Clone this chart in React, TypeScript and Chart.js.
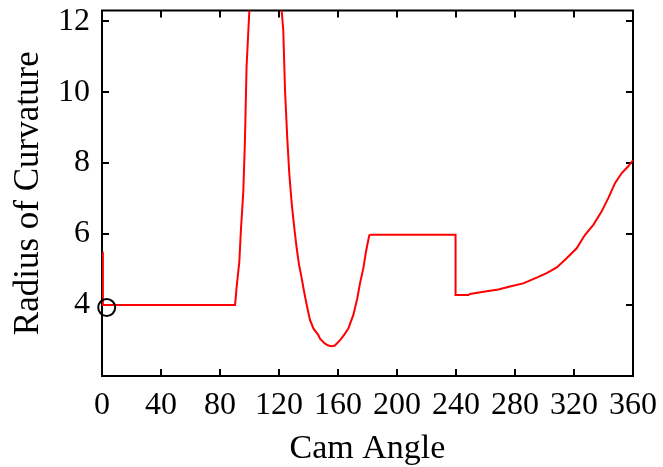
import React, { useEffect, useRef } from "react";
import { Chart, registerables } from "chart.js";

Chart.register(...registerables);

// Cam angle (deg) and radius of curvature
const camAngle: number[] = [
  0.6, 0.6, 2, 30, 60, 90.2, 91.3, 93.1, 94.2, 95.8, 96.9, 98, 99.9, 101, 111,
  121, 121.8, 122.9, 124.1, 125.6, 127, 128.6, 130.4, 132, 133.6, 135.4, 137,
  138.8, 141, 143.3, 146.6, 147.8, 151, 153.4, 155.7, 157.9, 161.4, 164, 167,
  170.4, 173.1, 174.9, 177.2, 179, 179.9, 181.2, 182, 200, 220, 239.7, 239.7,
  248.4, 249.5, 259.7, 268.7, 276.6, 285.6, 294.7, 301.5, 308.3, 315, 321.8,
  327.5, 333.1, 338.8, 343.3, 347.9, 352.4, 356.8, 360,
];
const radius: number[] = [
  5.5, 4.0, 4.0, 4.0, 4.0, 4.0, 4.52, 5.22, 6.13, 7.2, 8.62, 10.7, 12.3, 13.5,
  22, 13.4, 12.3, 11.74, 10.04, 8.7, 7.69, 6.87, 6.16, 5.6, 5.13, 4.75, 4.38,
  4.0, 3.58, 3.34, 3.16, 3.05, 2.92, 2.86, 2.84, 2.86, 3.01, 3.15, 3.34, 3.72,
  4.19, 4.61, 5.04, 5.51, 5.7, 5.96, 5.98, 5.98, 5.98, 5.98, 4.28, 4.28, 4.31,
  4.38, 4.44, 4.52, 4.61, 4.77, 4.9, 5.06, 5.32, 5.6, 5.98, 6.26, 6.64, 7.02,
  7.44, 7.72, 7.91, 8.08,
];
const markerPoint = { x: 3.2, y: 3.93 };

const xTicks: number[] = [0, 40, 80, 120, 160, 200, 240, 280, 320, 360];
const yTicks: number[] = [4, 6, 8, 10, 12];

const FONT = "'Liberation Serif', 'Times New Roman', serif";

const boxPlugin = {
  id: "boxTicks",
  beforeDatasetsDraw(chart: any) {
    const { ctx, chartArea } = chart;
    const { left, right, top, bottom } = chartArea;
    const xs = chart.scales.x;
    const ys = chart.scales.y;
    const len = 7;
    ctx.save();
    ctx.strokeStyle = "#000";
    ctx.lineWidth = 2;
    ctx.beginPath();
    ctx.rect(left, top, right - left, bottom - top);
    ctx.stroke();
    ctx.beginPath();
    xTicks.forEach((v) => {
      const px = Math.round(xs.getPixelForValue(v));
      ctx.moveTo(px, bottom);
      ctx.lineTo(px, bottom - len);
      ctx.moveTo(px, top);
      ctx.lineTo(px, top + len);
    });
    yTicks.forEach((v) => {
      const py = Math.round(ys.getPixelForValue(v));
      ctx.moveTo(left, py);
      ctx.lineTo(left + len, py);
      ctx.moveTo(right, py);
      ctx.lineTo(right - len, py);
    });
    ctx.stroke();
    ctx.restore();
  },
};

const zeroPad = (s: any) => {
  s.paddingTop = 0;
  s.paddingBottom = 0;
  s.paddingLeft = 0;
  s.paddingRight = 0;
};

export default function App() {
  const ref = useRef<HTMLCanvasElement | null>(null);
  useEffect(() => {
    if (!ref.current) return;
    const data = camAngle.map((x, i) => ({ x, y: radius[i] }));
    const chart = new Chart(ref.current, {
      type: "line",
      data: {
        datasets: [
          {
            data: [markerPoint],
            borderColor: "#000",
            backgroundColor: "rgba(0,0,0,0)",
            pointRadius: 8.5,
            pointBorderWidth: 2,
            showLine: false,
            clip: false as any,
          },
          {
            data,
            borderColor: "#ff0000",
            borderWidth: 2,
            pointRadius: 0,
            tension: 0,
            fill: false,
          },
        ],
      },
      options: {
        animation: false,
        responsive: false,
        events: [],
        layout: { padding: { left: 0, right: 30, top: 10, bottom: 0 } },
        plugins: {
          legend: { display: false },
          tooltip: { enabled: false },
        },
        scales: {
          x: {
            type: "linear",
            min: 0,
            max: 360,
            afterFit: (s: any) => {
              s.height = 91;
              zeroPad(s);
            },
            afterBuildTicks: (s: any) => {
              s.ticks = xTicks.map((v) => ({ value: v }));
            },
            grid: { display: false, drawTicks: false },
            border: { display: false },
            ticks: {
              autoSkip: false,
              maxRotation: 0,
              minRotation: 0,
              padding: 10,
              color: "#000",
              font: { family: FONT, size: 32 },
            },
            title: {
              display: true,
              text: "Cam Angle",
              color: "#000",
              font: { family: FONT, size: 34, lineHeight: 1 },
              padding: { top: 0, bottom: 1 },
            },
          },
          y: {
            type: "linear",
            min: 2,
            max: 12.3,
            afterFit: (s: any) => {
              s.width = 102;
              zeroPad(s);
            },
            afterBuildTicks: (s: any) => {
              s.ticks = yTicks.map((v) => ({ value: v }));
            },
            grid: { display: false, drawTicks: false },
            border: { display: false },
            ticks: {
              padding: 12,
              color: "#000",
              font: { family: FONT, size: 32 },
            },
            title: {
              display: true,
              text: "Radius of Curvature",
              color: "#000",
              font: { family: FONT, size: 35, lineHeight: 1 },
              padding: { top: 11, bottom: 0 },
            },
          },
        },
      },
      plugins: [boxPlugin],
    });
    return () => chart.destroy();
  }, []);
  return (
    <div style={{ position: "absolute", left: 0, top: 0, width: 663, height: 467, background: "#fff" }}>
      <canvas ref={ref} width={663} height={467} style={{ width: 663, height: 467 }} />
    </div>
  );
}
